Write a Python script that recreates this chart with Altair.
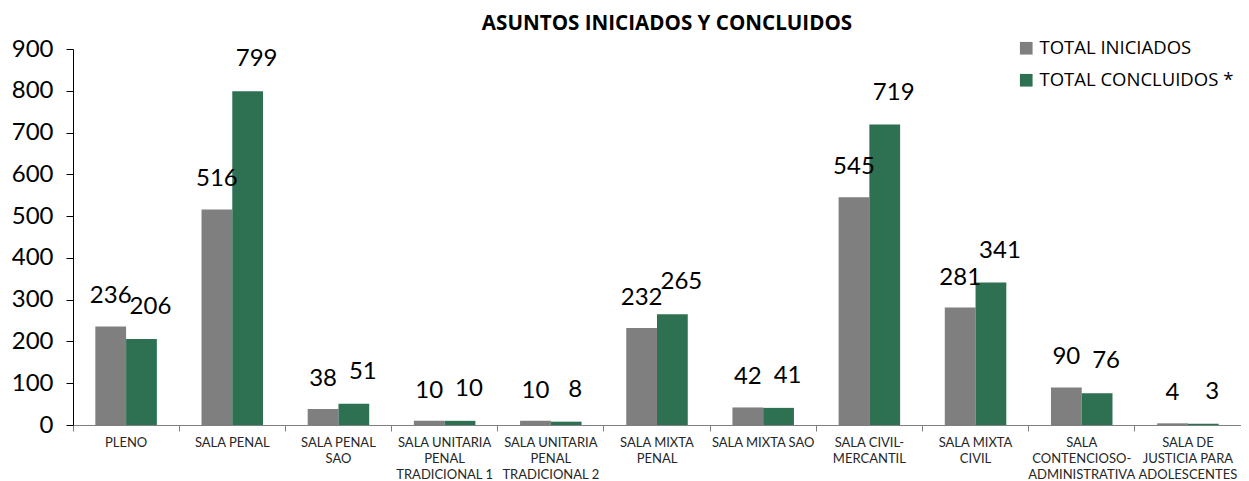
import altair as alt
import pandas as pd

categories = [
    "PLENO",
    "SALA PENAL",
    "SALA PENAL\nSAO",
    "SALA UNITARIA\nPENAL\nTRADICIONAL 1",
    "SALA UNITARIA\nPENAL\nTRADICIONAL 2",
    "SALA MIXTA\nPENAL",
    "SALA MIXTA SAO",
    "SALA CIVIL-\nMERCANTIL",
    "SALA MIXTA\nCIVIL",
    "SALA\nCONTENCIOSO-\nADMINISTRATIVA",
    "SALA DE\nJUSTICIA PARA\nADOLESCENTES",
]
series = ["TOTAL INICIADOS", "TOTAL CONCLUIDOS *"]
iniciados = [236, 516, 38, 10, 10, 232, 42, 545, 281, 90, 4]
concluidos = [206, 799, 51, 10, 8, 265, 41, 719, 341, 76, 3]
colors = ["#7f7f7f", "#2e7152"]

rows = []
for c, a, b in zip(categories, iniciados, concluidos):
    rows.append({"cat": c, "serie": series[0], "valor": a})
    rows.append({"cat": c, "serie": series[1], "valor": b})
df = pd.DataFrame(rows)

x = alt.X(
    "cat:N",
    sort=categories,
    scale=alt.Scale(paddingInner=0, paddingOuter=0),
    axis=alt.Axis(
        title=None,
        labelAngle=0,
        labelExpr="split(datum.label, '\\n')",
        labelFont="Lato",
        labelFontSize=13,
        labelColor="#262626",
        labelLineHeight=16,
        labelPadding=5,
        bandPosition=0,
        tickSize=6,
        tickColor="#808080",
        domainColor="#808080",
        labelLimit=200,
    ),
)
xo = alt.XOffset("serie:N", sort=series, scale=alt.Scale(paddingOuter=0.726, paddingInner=0))
y = alt.Y(
    "valor:Q",
    scale=alt.Scale(domain=[0, 900], nice=False),
    axis=alt.Axis(
        title=None,
        values=list(range(0, 901, 100)),
        labelFont="Lato",
        labelFontSize=24,
        labelColor="#000000",
        labelPadding=13,
        tickSize=7,
        tickColor="#000000",
        domainColor="#000000",
        grid=False,
    ),
)

bars = alt.Chart(df).mark_bar().encode(
    x=x,
    xOffset=xo,
    y=y,
    color=alt.Color(
        "serie:N",
        sort=series,
        scale=alt.Scale(domain=series, range=colors),
        legend=alt.Legend(
            title=None,
            orient="none",
            legendX=944,
            legendY=-10,
            symbolType="square",
            symbolSize=160,
            symbolStrokeWidth=0,
            labelFont="Open Sans",
            labelFontSize=18.5,
            labelColor="#000000",
            labelLimit=400,
            rowPadding=13,
            labelOffset=4,
        ),
    ),
)

labels_a = alt.Chart(df).transform_filter(
    alt.datum.serie == series[0]
).mark_text(
    font="Lato", fontSize=24, baseline="middle", dy=-30, color="#000000"
).encode(x=x, xOffset=xo, y=y, text="valor:Q")

labels_b = alt.Chart(df).transform_filter(
    alt.datum.serie == series[1]
).mark_text(
    font="Lato", fontSize=24, baseline="middle", dy=-32, dx=9, color="#000000"
).encode(x=x, xOffset=xo, y=y, text="valor:Q")

chart = (
    alt.layer(bars, labels_a, labels_b)
    .properties(
        width=1168,
        height=376,
        title=alt.TitleParams(
            "ASUNTOS INICIADOS Y CONCLUIDOS",
            font="Open Sans",
            fontSize=20.6,
            fontWeight="bold",
            color="#000000",
            anchor="middle",
            dx=10,
            offset=2,
        ),
        autosize=alt.AutoSizeParams(type="none"),
        padding={"left": 65, "top": 41, "right": 0, "bottom": 56},
    )
    .configure_view(stroke=None)
)

chart.save("out.html", embed_options={"renderer": "svg", "actions": False})
